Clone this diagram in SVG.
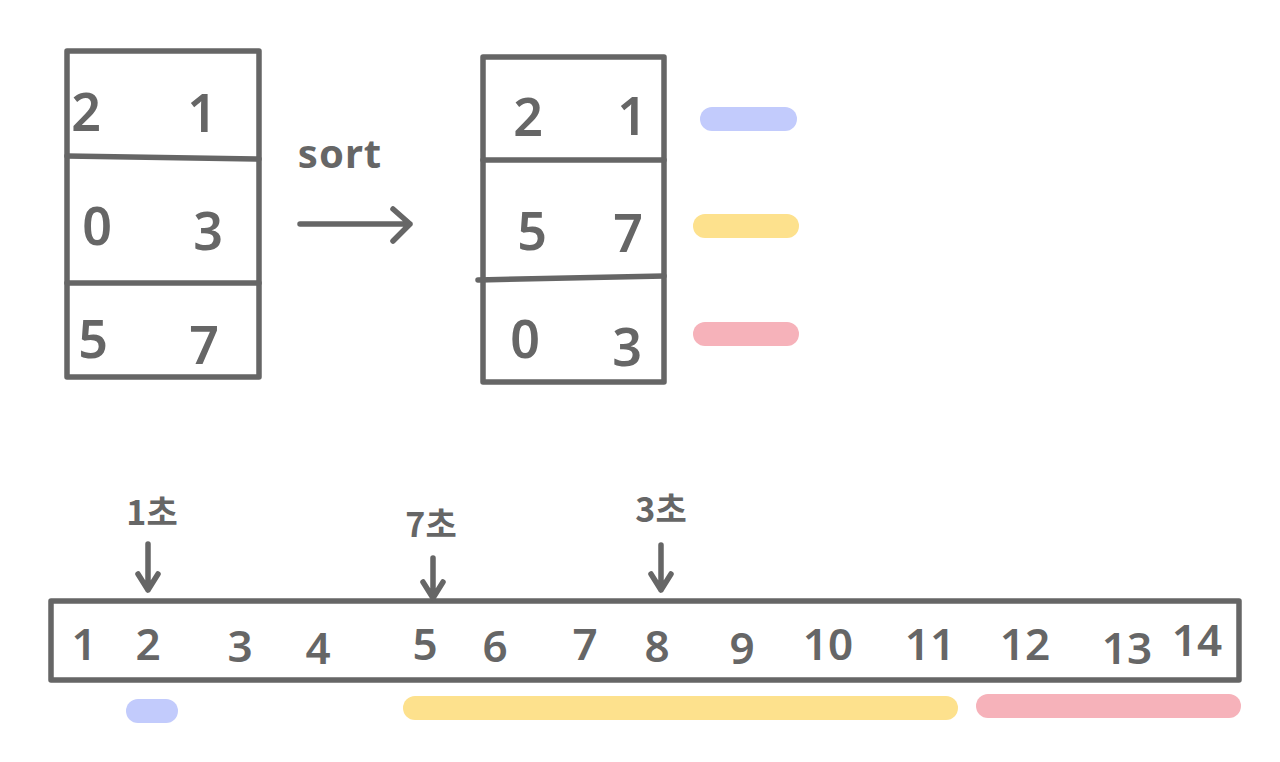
<svg xmlns="http://www.w3.org/2000/svg" width="1280" height="762" viewBox="0 0 1280 762">
  <style>
    .ln { stroke: #666666; stroke-width: 5.5; fill: none; stroke-linecap: round; stroke-linejoin: round; }
    .dg { font-family: "Noto Sans", "Liberation Sans", sans-serif; font-weight: 600; fill: #666666; text-anchor: middle; }
    .bx { font-size: 52px; }
    .br { font-size: 44px; }
    .kr { font-family: "Noto Sans CJK KR", "Noto Sans", sans-serif; font-weight: 700; font-size: 34px; fill: #666666; text-anchor: middle; }
    .blue { stroke: #c2cbfc; }
    .yellow { stroke: #fde18d; }
    .pink { stroke: #f6b2ba; }
    .pill { stroke-width: 24; stroke-linecap: round; fill: none; }
  </style>
  <rect width="1280" height="762" fill="#ffffff"/>

  <g id="box-unsorted">
    <rect class="ln" x="67" y="51" width="192" height="326"/>
    <line class="ln" x1="67" y1="156" x2="259" y2="159"/>
    <line class="ln" x1="67" y1="283" x2="259" y2="283"/>
    <text class="dg bx" x="86" y="131">2</text>
    <text class="dg bx" x="202" y="132">1</text>
    <text class="dg bx" x="97" y="245">0</text>
    <text class="dg bx" x="208" y="250">3</text>
    <text class="dg bx" x="93" y="358">5</text>
    <text class="dg bx" x="204" y="364">7</text>
  </g>

  <g id="sort-label">
    <text x="340" y="168" font-family="Noto Sans, Liberation Sans, sans-serif" font-weight="700" font-size="40" fill="#666666" text-anchor="middle" letter-spacing="1">sort</text>
  </g>

  <g id="box-sorted">
    <rect class="ln" x="483" y="57" width="181" height="325"/>
    <line class="ln" x1="483" y1="160" x2="664" y2="160"/>
    <line class="ln" x1="478" y1="280" x2="664" y2="276"/>
    <text class="dg bx" x="528" y="136">2</text>
    <text class="dg bx" x="632" y="135">1</text>
    <text class="dg bx" x="532" y="250">5</text>
    <text class="dg bx" x="628" y="252">7</text>
    <text class="dg bx" x="525" y="358">0</text>
    <text class="dg bx" x="627" y="366">3</text>
  </g>

  <g id="legend-pills">
    <line class="pill blue" x1="712" y1="119" x2="785" y2="119"/>
    <line class="pill yellow" x1="705" y1="226" x2="787" y2="226"/>
    <line class="pill pink" x1="705" y1="334" x2="787" y2="334"/>
  </g>

  <g id="timeline">
    <rect class="ln" x="51" y="601" width="1188" height="79"/>
    <text class="dg br" x="84" y="660">1</text>
    <text class="dg br" x="148" y="660">2</text>
    <text class="dg br" x="240" y="662">3</text>
    <text class="dg br" x="318" y="664">4</text>
    <text class="dg br" x="425" y="660">5</text>
    <text class="dg br" x="495" y="662">6</text>
    <text class="dg br" x="585" y="660">7</text>
    <text class="dg br" x="657" y="662">8</text>
    <text class="dg br" x="742" y="664">9</text>
    <text class="dg br" x="828" y="660">10</text>
    <text class="dg br" x="930" y="660">11</text>
    <text class="dg br" x="1025" y="660">12</text>
    <text class="dg br" x="1127" y="664">13</text>
    <text class="dg br" x="1197" y="656">14</text>
  </g>

  <g id="label-1s">
    <text class="kr" x="152" y="525">1초</text>
  </g>
  <g id="label-7s">
    <text class="kr" x="431" y="537">7초</text>
  </g>
  <g id="label-3s">
    <text class="kr" x="661" y="522">3초</text>
  </g>

  <g id="timeline-pills">
    <line class="pill blue" x1="138" y1="711" x2="166" y2="711"/>
    <line class="pill yellow" x1="415" y1="708" x2="946" y2="708"/>
    <line class="pill pink" x1="988" y1="706" x2="1229" y2="706"/>
  </g>

  <g id="connectors">
    <path class="ln" d="M300 224 H410 M393 209 L410 224 L393 241"/>
    <path class="ln" d="M148 544 V590 M138 574 L148 590 L158 574"/>
    <path class="ln" d="M433 558 V598 M423 582 L433 598 L443 582"/>
    <path class="ln" d="M661 545 V590 M651 574 L661 590 L671 574"/>
  </g>
</svg>
